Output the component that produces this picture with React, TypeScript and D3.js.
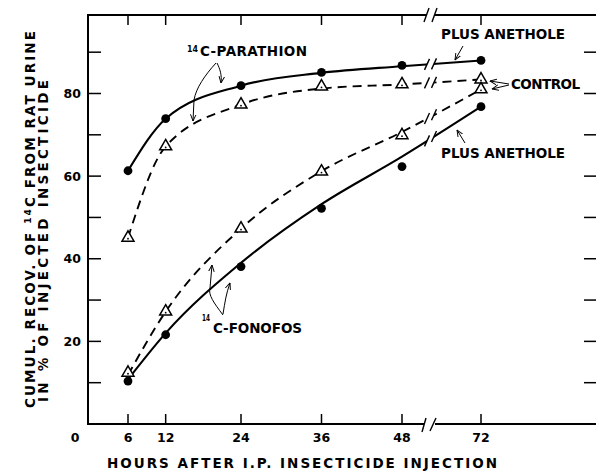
import React from "react";
import * as d3 from "d3";

// hours after injection (72 h sits after the axis break)
const hours = [6, 12, 24, 36, 48, 72];
const xTicks = [6, 12, 24, 36, 48, 72];
const yMajor = [20, 40, 60, 80];
const yMinor = [10, 30, 50, 70, 90];

// measured points, % of injected 14C recovered
const parathionAnethole = [61.3, 73.9, 81.9, 85.1, 86.8, 88.0];
const parathionControl = [45.1, 67.2, 77.3, 81.7, 82.2, 83.4];
const fonofosAnethole = [10.4, 21.6, 38.1, 52.2, 62.3, 76.8];
const fonofosControl = [12.4, 27.2, 47.3, 61.1, 69.9, 81.0];

// hand drawn curves of the original (they miss some points)
const parathionAnetholeFit = [61.3, 73.9, 81.9, 85.0, 86.6, 88.0];
const parathionControlFit = [45.1, 67.2, 77.3, 81.2, 82.2, 83.4];
const fonofosAnetholeFit = [10.8, 22.0, 39.0, 53.2, 64.7, 76.8];
const fonofosControlFit = [11.9, 27.2, 47.3, 61.2, 70.7, 81.0];

const W = 596;
const H = 471;
const FONT = "'DejaVu Sans', Verdana, sans-serif";

const x = d3.scaleLinear().domain([6, 24, 48, 72]).range([128, 241, 402, 481]);
const y = d3.scaleLinear().domain([0, 99]).range([424, 15]);
const left = 88, right = 597, top = y(99), bottom = y(0);
const brkA = 427, brkB = 434;

function Curve({ vals, dashed }: { vals: number[]; dashed?: boolean }) {
  const line = d3
    .line<number>()
    .x((_, i) => x(hours[i]))
    .y((v) => y(v))
    .curve(d3.curveMonotoneX);
  const at = d3.scaleLinear().domain(hours).range(vals);
  const yA = y(at(x.invert(brkA)));
  const yB = y(at(x.invert(brkB)));
  return (
    <g>
      <path
        d={line(vals) || ""}
        fill="none"
        stroke="#000"
        strokeWidth={dashed ? 1.9 : 2.1}
        strokeDasharray={dashed ? "9,6" : undefined}
        clipPath="url(#brk)"
      />
      <line x1={brkA - 2.5} y1={yA + 5.5} x2={brkA + 2.5} y2={yA - 5.5} stroke="#000" strokeWidth={1.4} />
      <line x1={brkB - 2.5} y1={yB + 5.5} x2={brkB + 2.5} y2={yB - 5.5} stroke="#000" strokeWidth={1.4} />
    </g>
  );
}

function Dots({ vals }: { vals: number[] }) {
  return (
    <g>
      {vals.map((v, i) => (
        <circle key={i} cx={x(hours[i])} cy={y(v)} r={4.4} fill="#000" />
      ))}
    </g>
  );
}

function Triangles({ vals }: { vals: number[] }) {
  const tri = d3.symbol(d3.symbolTriangle, 62)() || "";
  return (
    <g>
      {vals.map((v, i) => (
        <g key={i} transform={`translate(${x(hours[i])},${y(v)})`}>
          <path d={tri} fill="#fff" stroke="#000" strokeWidth={1.5} />
          <circle cx={0} cy={1} r={0.9} fill="#000" />
        </g>
      ))}
    </g>
  );
}

export default function App() {
  const arrow = { fill: "none", stroke: "#000", strokeWidth: 1, markerEnd: "url(#ah)" };
  return (
    <svg width={W} height={H} style={{ position: "absolute", left: 0, top: 0, background: "#fff" }}>
      <defs>
        <clipPath id="brk">
          <rect x={0} y={0} width={brkA} height={H} />
          <rect x={brkB} y={0} width={W - brkB} height={H} />
        </clipPath>
        <marker id="ah" viewBox="0 0 8 8" refX={7.5} refY={4} markerWidth={7} markerHeight={7} orient="auto" markerUnits="userSpaceOnUse">
          <path d="M0,0.8 L7.5,4 L0,7.2" fill="none" stroke="#000" strokeWidth={1.1} />
        </marker>
      </defs>

      {/* frame with the axis break */}
      <g stroke="#000" strokeWidth={2} fill="none">
        <line x1={left} y1={top} x2={left} y2={bottom} />
        <line x1={right} y1={top} x2={right} y2={bottom} />
        <line x1={left - 1} y1={top} x2={brkA - 1} y2={top} />
        <line x1={brkB + 1} y1={top} x2={W} y2={top} />
        <line x1={left - 1} y1={bottom} x2={brkA - 3} y2={bottom} />
        <line x1={brkB + 1} y1={bottom} x2={W} y2={bottom} />
      </g>
      <g stroke="#000" strokeWidth={1.4}>
        <line x1={brkA - 3} y1={top + 7} x2={brkA + 2} y2={top - 7} />
        <line x1={brkB - 2} y1={top + 7} x2={brkB + 3} y2={top - 7} />
        <line x1={brkA - 5} y1={bottom + 8} x2={brkA - 1} y2={bottom - 6} />
        <line x1={brkB - 4} y1={bottom + 7} x2={brkB + 2} y2={bottom - 6} />
      </g>

      {/* ticks */}
      <g stroke="#000" strokeWidth={1.5}>
        {xTicks.map((t) => (
          <g key={t}>
            <line x1={x(t)} y1={top} x2={x(t)} y2={top + 10} />
            <line x1={x(t)} y1={bottom} x2={x(t)} y2={bottom - 10} />
          </g>
        ))}
        {yMajor.concat(yMinor).map((t) => (
          <g key={t}>
            <line x1={left} y1={y(t)} x2={left + 13} y2={y(t)} />
            <line x1={right - 13} y1={y(t)} x2={right} y2={y(t)} />
          </g>
        ))}
      </g>

      {/* tick labels */}
      <g fontFamily={FONT} fontWeight="bold" fontSize={12.5} fill="#000">
        {yMajor.map((t) => (
          <text key={t} x={81} y={y(t) + 4.5} textAnchor="end">
            {t}
          </text>
        ))}
        <text x={75} y={442} textAnchor="middle">0</text>
        {xTicks.map((t) => (
          <text key={t} x={x(t)} y={442} textAnchor="middle">
            {t}
          </text>
        ))}
      </g>

      {/* axis titles */}
      <g fontFamily={FONT} fontWeight="bold" fontSize={13.5} fill="#000">
        <text x={107} y={468} textLength={390} lengthAdjust="spacing">
          HOURS AFTER I.P. INSECTICIDE INJECTION
        </text>
        <text transform="translate(35,408) rotate(-90)" textLength={377} lengthAdjust="spacing">
          CUMUL. RECOV. OF <tspan fontSize={9} dy={-4}>14</tspan>
          <tspan dy={4}>C FROM RAT URINE</tspan>
        </text>
        <text transform="translate(48,402) rotate(-90)" textLength={322} lengthAdjust="spacing">
          IN % OF INJECTED INSECTICIDE
        </text>
      </g>

      {/* curves */}
      <Curve vals={parathionAnetholeFit} />
      <Curve vals={parathionControlFit} dashed />
      <Curve vals={fonofosAnetholeFit} />
      <Curve vals={fonofosControlFit} dashed />
      <Dots vals={parathionAnethole} />
      <Dots vals={fonofosAnethole} />
      <Triangles vals={parathionControl} />
      <Triangles vals={fonofosControl} />

      {/* annotations */}
      <g fontFamily={FONT} fontWeight="bold" fill="#000">
        <text x={187} y={52} fontSize={9} textLength={11} lengthAdjust="spacingAndGlyphs">14</text>
        <text x={200} y={56} fontSize={13.5} textLength={107} lengthAdjust="spacing">C-PARATHION</text>
        <text x={441} y={39} fontSize={13.5} textLength={124} lengthAdjust="spacing">PLUS ANETHOLE</text>
        <text x={511} y={89} fontSize={13.5} textLength={69} lengthAdjust="spacing">CONTROL</text>
        <text x={441} y={158} fontSize={13.5} textLength={124} lengthAdjust="spacing">PLUS ANETHOLE</text>
        <text x={202} y={321} fontSize={8.5} textLength={8} lengthAdjust="spacingAndGlyphs">14</text>
        <text x={213} y={333} fontSize={13.5} textLength={89} lengthAdjust="spacing">C-FONOFOS</text>
      </g>
      <g>
        <path d="M217,63 C220,69 222,75 221,83" {...arrow} />
        <path d="M216,63 C205,75 196,88 194,100 L193,121" {...arrow} />
        <path d="M463,46 L455,60" {...arrow} />
        <path d="M509,84 L490,81" {...arrow} />
        <path d="M509,85 L492,89" {...arrow} />
        <path d="M465,143 L457,130" {...arrow} />
        <path d="M223,315 C214,303 208,295 210,288 L212,265" {...arrow} />
        <path d="M223,314 C225,302 226,294 230,283" {...arrow} />
      </g>
    </svg>
  );
}
